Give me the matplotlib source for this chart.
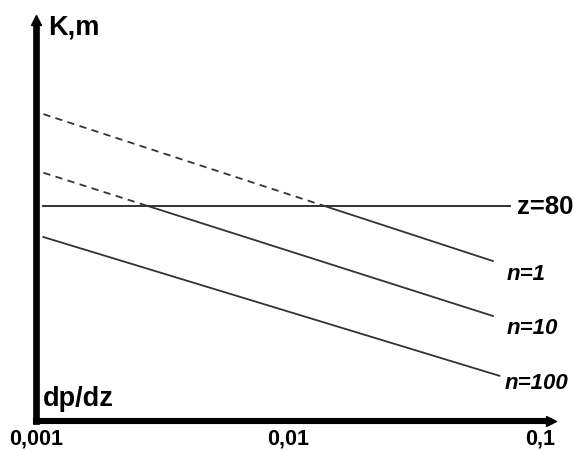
import numpy as np
import matplotlib.pyplot as plt

# schematic: K (m) vs dp/dz, log x axis
x_ticks = [0.001, 0.01, 0.1]
x_ticklabels = ["0,001", "0,01", "0,1"]

z_label = "z=80"
z_level = 52.8
z_x = [0.00107, 0.076]

n_labels = ["n=1", "n=10", "n=100"]
n_x_start = [0.00107, 0.00107, 0.00107]
n_x_end = [0.065, 0.065, 0.069]
n_k_start = [75.4, 61.0, 45.2]
n_k_end = [39.3, 25.8, 11.1]

line_col = "#333333"

plt.rcParams['font.family'] = ['Liberation Sans', 'DejaVu Sans']
fig = plt.figure(figsize=(5.8, 4.52), dpi=100)
ax = fig.add_axes([36/580, 30/452, 521/580, 407/452])
ax.set_xscale("log")
ax.set_xlim(0.001, 0.1167)
ax.set_ylim(0, 100)
for s in ax.spines.values():
    s.set_visible(False)

# horizontal level z=80
ax.plot(z_x, [z_level, z_level], color="#222222", lw=1.3)
ax.annotate(z_label, xy=(z_x[1], z_level), xytext=(5, 0), textcoords="offset points",
            fontsize=18.5, fontweight="bold", va="center", ha="left")

# n lines: dashed above the z level, solid below
offsets = [(10, -9), (10, -8), (4, -5)]
for i, lab in enumerate(n_labels):
    lx0, lx1 = np.log10(n_x_start[i]), np.log10(n_x_end[i])
    k0, k1 = n_k_start[i], n_k_end[i]
    if k0 > z_level:
        f = (k0 - z_level) / (k0 - k1)
        xc = 10 ** (lx0 + f * (lx1 - lx0))
        ax.plot([n_x_start[i], xc], [k0, z_level], color=line_col, lw=1.3,
                linestyle=(0, (4, 3)))
        ax.plot([xc, n_x_end[i]], [z_level, k1], color=line_col, lw=1.3)
    else:
        ax.plot([n_x_start[i], n_x_end[i]], [k0, k1], color=line_col, lw=1.3)
    ax.annotate(lab, xy=(n_x_end[i], k1), xytext=offsets[i], textcoords="offset points",
                fontsize=16, fontweight="bold", fontstyle="italic", va="center", ha="left")

# axes with arrows
tr = ax.transAxes
ax.plot([0, 0], [0, 0.975], transform=tr, color="black", lw=4.8, clip_on=False,
        solid_capstyle="projecting")
ax.plot([0, 0.985], [0, 0], transform=tr, color="black", lw=4.4, clip_on=False,
        solid_capstyle="projecting")
ax.plot([0], [0.985], transform=tr, marker="^", ms=7, color="black", clip_on=False)
ax.plot([0.988], [0], transform=tr, marker=">", ms=7, color="black", clip_on=False)

ax.text(0.023, 0.97, "K,m", transform=tr, fontsize=19.5, fontweight="bold",
        va="center", ha="left")
ax.text(0.013, 0.039, "dp/dz", transform=tr, fontsize=19.5, fontweight="bold",
        va="baseline", ha="left")

ax.set_xticks(x_ticks)
ax.set_xticklabels(x_ticklabels, fontsize=15.5, fontweight="bold")
ax.xaxis.set_minor_locator(plt.NullLocator())
ax.tick_params(axis="x", length=0, pad=5)
ax.set_yticks([])

fig.savefig("out.png", dpi=100)
